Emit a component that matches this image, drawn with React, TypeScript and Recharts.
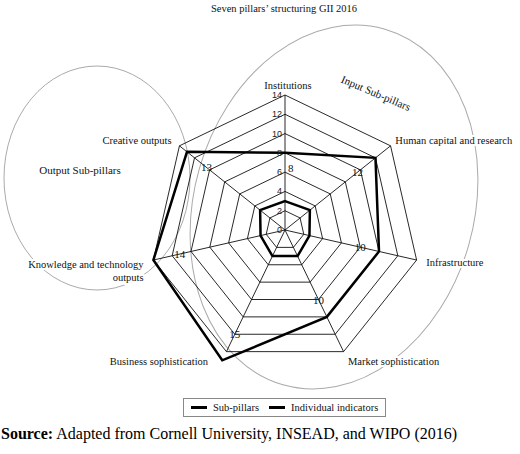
import React from "react";
import {
  Legend,
  LabelList,
  PolarAngleAxis,
  PolarGrid,
  PolarRadiusAxis,
  Radar,
  RadarChart,
} from "recharts";

const pillars = [
  "Institutions",
  "Human capital and research",
  "Infrastructure",
  "Market sophistication",
  "Business sophistication",
  "Knowledge and technology outputs",
  "Creative outputs",
];
const seriesNames = ["Sub-pillars", "Individual indicators"];
const subPillars = [8, 12, 10, 10, 15, 14, 13];
const individualIndicators = [3, 3.3, 2.6, 3, 3, 2.6, 3.3];
const radiusTicks = [0, 2, 4, 6, 8, 10, 12, 14];

const rows = pillars.map((p, i) => ({
  pillar: p,
  sub: subPillars[i],
  ind: individualIndicators[i],
}));

const CX = 285;
const CY = 230;
const R = 135;
const SERIF = "'Liberation Serif', 'Times New Roman', serif";

const labelLines: Record<string, string[]> = {
  "Knowledge and technology outputs": ["Knowledge and technology", "outputs"],
};

function AngleTick(props: any) {
  const value: string = props.payload?.value;
  const i = pillars.indexOf(value);
  const a = ((90 - (i * 360) / pillars.length) * Math.PI) / 180;
  const r = R + 10;
  let x = CX + r * Math.cos(a);
  let y = CY - r * Math.sin(a);
  const c = Math.cos(a);
  const anchor = Math.abs(c) < 0.01 ? "middle" : c > 0 ? "start" : "end";
  if (value === "Business sophistication") x -= 14;
  if (value === "Institutions") x += 3;
  if (value === "Human capital and research") x -= 3;
  const lines = labelLines[value] ?? [value];
  const lh = 13;
  const y0 = y + (lines.length > 1 ? 8 - ((lines.length - 1) * lh) / 2 : 0);
  return (
    <text
      x={x}
      y={y0}
      textAnchor={anchor}
      dominantBaseline="central"
      fontFamily={SERIF}
      fontSize={10.5}
      fill="#111"
      stroke="#fff"
      strokeWidth={4}
      paintOrder="stroke"
    >
      {lines.map((l, k) => (
        <tspan key={k} x={x} y={y0 + k * lh}>
          {l}
        </tspan>
      ))}
    </text>
  );
}

function RadiusTick(props: any) {
  const { x, y, payload } = props;
  return (
    <text
      x={x - 3}
      y={y}
      textAnchor="end"
      dominantBaseline="central"
      fontFamily="'Liberation Sans', Arial, sans-serif"
      fontSize={9}
      fill="#222"
    >
      {payload.value}
    </text>
  );
}

function SubLabel(props: any) {
  const { x, y, value } = props;
  if (x == null || y == null) return null;
  let lx = CX + (x - CX) * 0.8;
  const ly = CY + (y - CY) * 0.8;
  const onAxis = Math.abs(x - CX) < 1;
  if (onAxis) lx += 3;
  return (
    <text
      x={lx}
      y={ly}
      textAnchor={onAxis ? "start" : "middle"}
      dominantBaseline="central"
      fontFamily={SERIF}
      fontSize={11}
      fill="#111"
    >
      {value}
    </text>
  );
}

function LegendBox(props: any) {
  const items = [...(props.payload ?? [])].sort(
    (a: any, b: any) => seriesNames.indexOf(a.value) - seriesNames.indexOf(b.value)
  );
  return (
    <div
      style={{
        display: "flex",
        alignItems: "center",
        gap: 10,
        border: "1px solid #888",
        padding: "3px 7px",
        fontFamily: SERIF,
        fontSize: 10.5,
        color: "#111",
        background: "#fff",
      }}
    >
      {items.map((it: any) => (
        <span key={it.value} style={{ display: "flex", alignItems: "center", gap: 6 }}>
          <span style={{ display: "inline-block", width: 16, height: 2.5, background: "#000" }} />
          {it.value}
        </span>
      ))}
    </div>
  );
}

export default function App() {
  return (
    <div style={{ position: "absolute", left: 0, top: 0, width: 520, height: 454, background: "#fff" }}>
      <svg width={520} height={454} style={{ position: "absolute", left: 0, top: 0 }}>
        <ellipse cx={97} cy={178} rx={93} ry={112} fill="none" stroke="#aaa" strokeWidth={1} />
        <ellipse
          cx={334}
          cy={207}
          rx={140}
          ry={185}
          transform="rotate(16 334 207)"
          fill="none"
          stroke="#aaa"
          strokeWidth={1}
        />
        <text
          x={376}
          y={93}
          textAnchor="middle"
          dominantBaseline="central"
          transform="rotate(23 376 93)"
          fontFamily={SERIF}
          fontSize={11}
          fill="#111"
        >
          Input Sub-pillars
        </text>
        <text
          x={80}
          y={170}
          textAnchor="middle"
          dominantBaseline="central"
          fontFamily={SERIF}
          fontSize={11}
          fill="#111"
          stroke="#fff"
          strokeWidth={4}
          paintOrder="stroke"
        >
          Output Sub-pillars
        </text>
      </svg>
      <div
        style={{
          position: "absolute",
          top: 3,
          left: 0,
          width: 568,
          textAlign: "center",
          fontFamily: SERIF,
          fontSize: 10.5,
          color: "#111",
        }}
      >
        Seven pillars’ structuring GII 2016
      </div>
      <div style={{ position: "absolute", left: 0, top: 0 }}>
        <RadarChart
          width={520}
          height={454}
          cx={CX}
          cy={CY}
          outerRadius={R}
          data={rows}
          margin={{ top: 0, right: 0, bottom: 0, left: 0 }}
        >
          <PolarGrid gridType="polygon" stroke="#111" strokeWidth={0.9} />
          <PolarAngleAxis dataKey="pillar" tick={<AngleTick />} tickLine={false} axisLine={false} />
          <PolarRadiusAxis
            angle={90}
            domain={[0, 14]}
            ticks={radiusTicks}
            allowDataOverflow
            axisLine={false}
            tick={<RadiusTick />}
          />
          <Radar
            name="Sub-pillars"
            dataKey="sub"
            stroke="#000"
            strokeWidth={2.5}
            fill="none"
            fillOpacity={0}
            isAnimationActive={false}
          >
            <LabelList dataKey="sub" content={<SubLabel />} />
          </Radar>
          <Radar
            name="Individual indicators"
            dataKey="ind"
            stroke="#000"
            strokeWidth={2.5}
            fill="none"
            fillOpacity={0}
            isAnimationActive={false}
          />
          <Legend
            content={<LegendBox />}
            wrapperStyle={{ position: "absolute", left: 183, top: 398, width: "auto" }}
          />
        </RadarChart>
      </div>
      <div
        style={{
          position: "absolute",
          left: 1,
          top: 425,
          fontFamily: SERIF,
          fontSize: 16,
          color: "#000",
          whiteSpace: "nowrap",
        }}
      >
        <b>Source:</b> Adapted from Cornell University, INSEAD, and WIPO (2016)
      </div>
    </div>
  );
}
